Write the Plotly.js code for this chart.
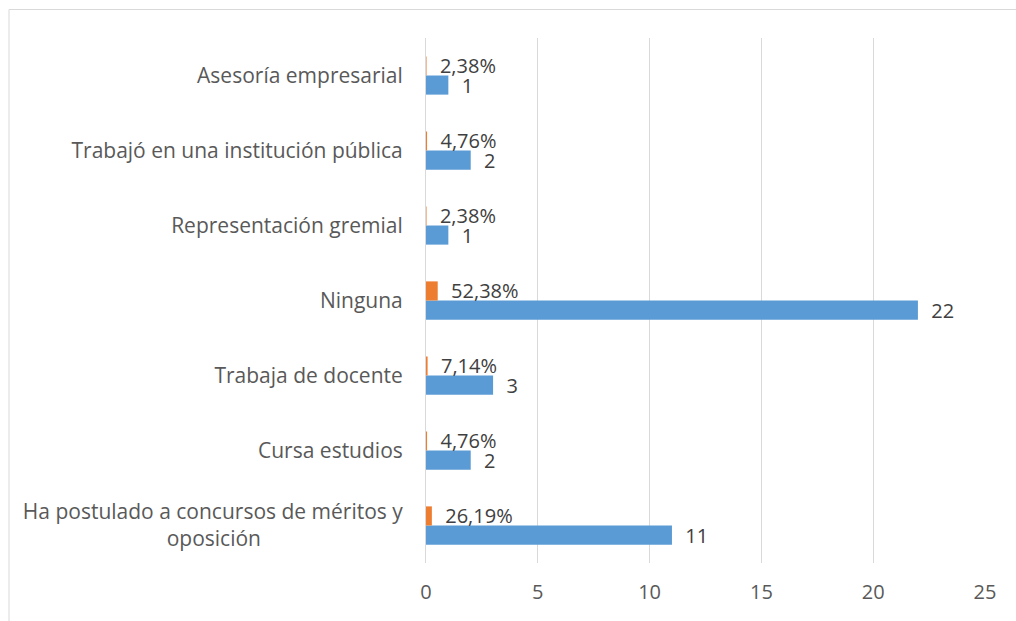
<!DOCTYPE html>
<html>
<head>
<meta charset="utf-8">
<script src="https://cdn.plot.ly/plotly-3.0.1.min.js"></script>
<style>html,body{margin:0;padding:0;background:#fff;}#chart{width:1016px;height:621px;}</style>
</head>
<body>
<div id="chart"></div>
<script>
// Categories from bottom to top
const categories = [
  "Ha postulado a concursos de méritos y<br>oposición" + "\u00a0".repeat(26),
  "Cursa estudios",
  "Trabaja de docente",
  "Ninguna",
  "Representación gremial",
  "Trabajó en una institución pública",
  "Asesoría empresarial"
];
const counts = [11, 2, 3, 22, 1, 2, 1];
const percents = [0.2619, 0.0476, 0.0714, 0.5238, 0.0238, 0.0476, 0.0238];
const xTicks = [0, 5, 10, 15, 20, 25];

const labelFont = {family: "Open Sans, sans-serif", size: 20, color: "#404040"};

const traces = [
  {
    type: "bar", orientation: "h",
    y: categories, x: counts,
    marker: {color: "#5b9bd5"},
    texttemplate: "\u00a0\u00a0%{x}",
    textposition: "outside",
    constraintext: "none",
    textfont: labelFont,
    cliponaxis: false,
    hoverinfo: "x+y"
  },
  {
    type: "bar", orientation: "h",
    y: categories, x: percents,
    marker: {color: "#ed7d31"},
    texttemplate: "\u00a0\u00a0%{x:.2%}",
    textposition: "outside",
    constraintext: "none",
    textfont: labelFont,
    cliponaxis: false,
    hoverinfo: "x+y"
  }
];

const layout = {
  width: 1016, height: 621,
  margin: {l: 426, r: 31, t: 38, b: 58},
  paper_bgcolor: "#fff", plot_bgcolor: "#fff",
  separators: ",.",
  barmode: "group",
  bargap: 0.49,
  bargroupgap: 0,
  showlegend: false,
  font: {family: "Open Sans, sans-serif", color: "#595959"},
  xaxis: {
    range: [0, 25],
    tickvals: xTicks,
    ticktext: xTicks.map(String),
    showgrid: true, gridcolor: "#d9d9d9", gridwidth: 1,
    zeroline: false, showline: false,
    ticks: "", ticklabelstandoff: 15,
    tickfont: {family: "Open Sans, sans-serif", size: 20, color: "#595959"}
  },
  yaxis: {
    type: "category",
    categoryorder: "array", categoryarray: categories,
    showgrid: false, zeroline: false,
    showline: true, linecolor: "#d9d9d9", linewidth: 1,
    ticks: "", ticklabelstandoff: 18,
    tickfont: {family: "Open Sans, sans-serif", size: 21, color: "#595959"}
  },
  shapes: [{
    type: "rect", xref: "paper", yref: "paper",
    x0: (9 - 426) / 559, x1: 1.2, y0: -0.3, y1: (563 - 9.5) / 525,
    line: {color: "#d9d9d9", width: 1}, fillcolor: "rgba(0,0,0,0)", layer: "below"
  }]
};

Plotly.newPlot("chart", traces, layout, {displayModeBar: false, staticPlot: true});
</script>
</body>
</html>
